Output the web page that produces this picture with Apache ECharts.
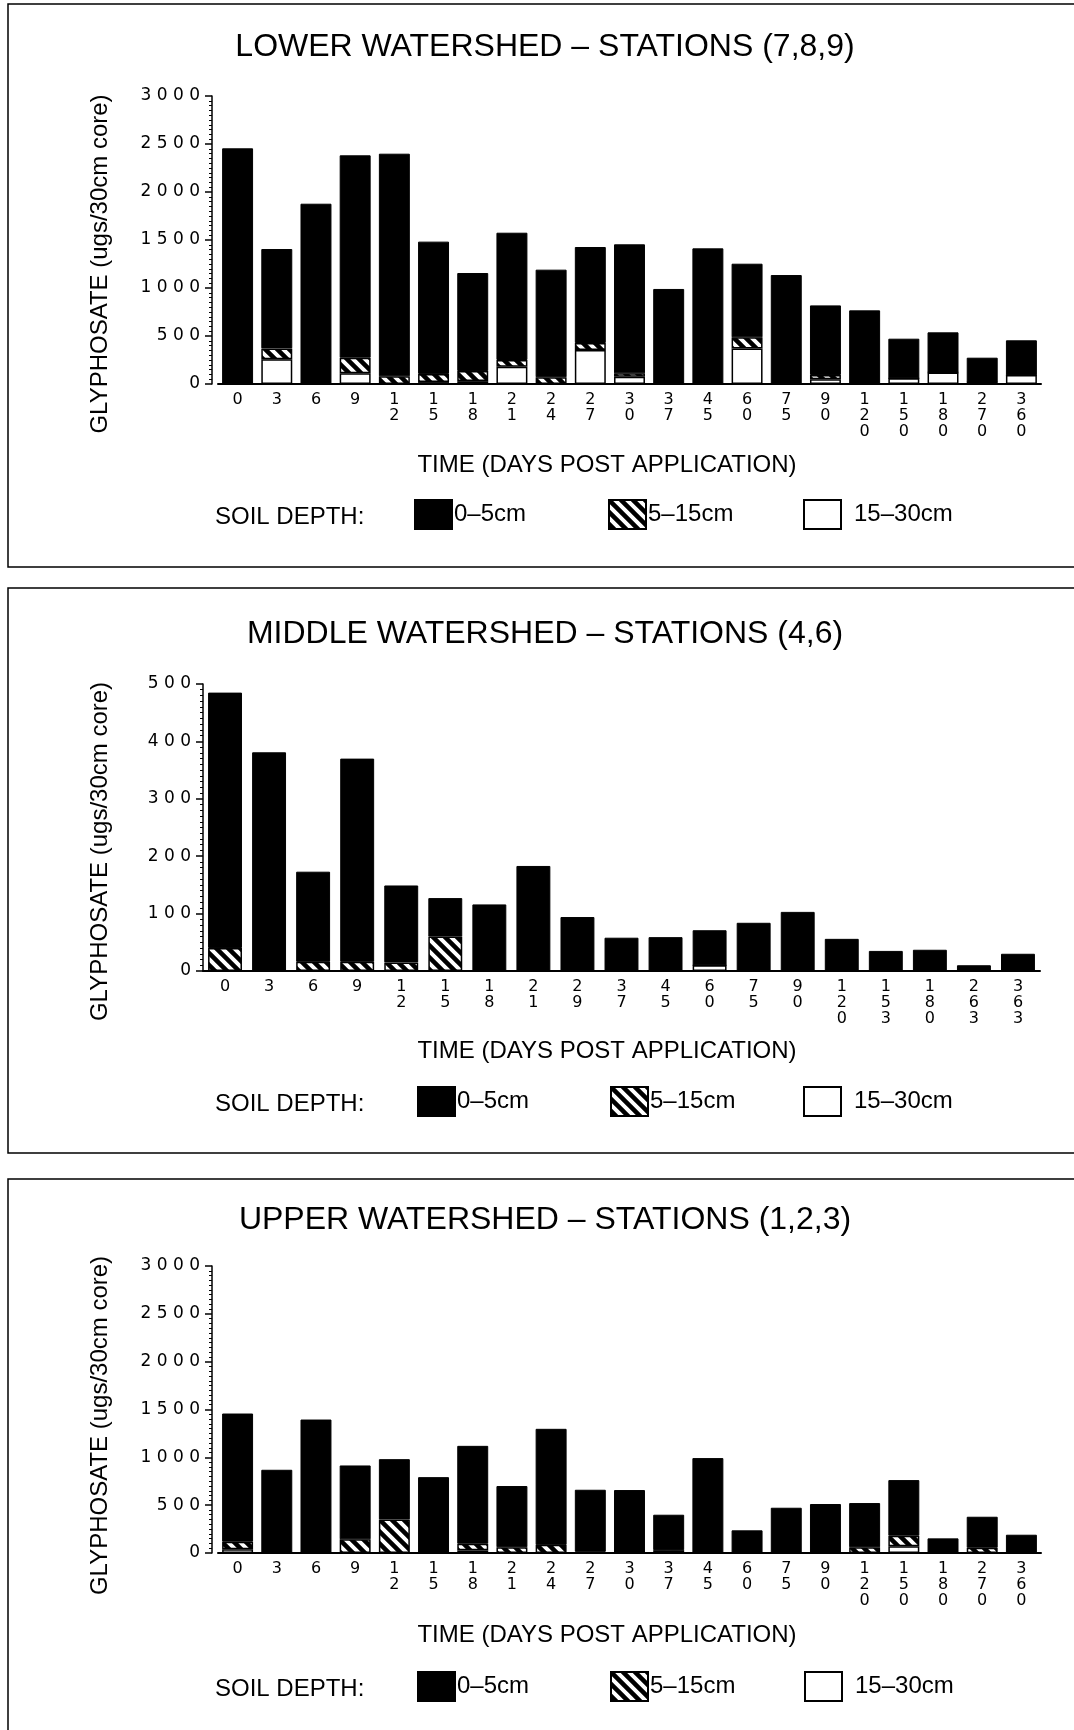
<!DOCTYPE html>
<html>
<head>
<meta charset="utf-8">
<title>Glyphosate by watershed</title>
<script src="https://cdn.jsdelivr.net/npm/echarts@6/dist/echarts.min.js"></script>
<style>
  html, body { margin: 0; padding: 0; background: #fff; }
  #chart { width: 1074px; height: 1730px; }
</style>
</head>
<body>
<div id="chart"></div>
<script>
// ---- data (ugs / 30cm core) ----
const lowerDays = ['0', '3', '6', '9', '12', '15', '18', '21', '24', '27', '30', '37', '45', '60', '75', '90', '120', '150', '180', '270', '360'];
const lowerTop = [2455, 1035, 1878, 2108, 2319, 1378, 1021, 1326, 1121, 1000, 1344, 990, 1413, 767, 1135, 725, 767, 412, 418, 259, 360];
const lowerMid = [0, 114, 0, 163, 80, 85, 105, 70, 70, 73, 35, 0, 0, 115, 0, 44, 0, 0, 0, 0, 0];
const lowerDeep = [0, 257, 0, 111, 0, 20, 30, 180, 0, 354, 76, 0, 0, 371, 0, 50, 0, 60, 120, 15, 95];

const middleDays = ['0', '3', '6', '9', '12', '15', '18', '21', '29', '37', '45', '60', '75', '90', '120', '153', '180', '263', '363'];
const middleTop = [445, 381, 157, 354, 134, 67, 116, 183, 94, 58, 59, 61, 84, 103, 56, 35, 37, 10, 30];
const middleMid = [40, 0, 16, 16, 15, 60, 0, 0, 0, 0, 0, 0, 0, 0, 0, 0, 0, 0, 0];
const middleDeep = [0, 0, 0, 0, 0, 0, 0, 0, 0, 0, 0, 10, 0, 0, 0, 0, 0, 0, 0];

const upperDays = ['0', '3', '6', '9', '12', '15', '18', '21', '24', '27', '30', '37', '45', '60', '75', '90', '120', '150', '180', '270', '360'];
const upperTop = [1340, 870, 1395, 772, 630, 793, 1023, 640, 1213, 649, 658, 370, 992, 237, 473, 512, 462, 581, 153, 324, 191];
const upperMid = [78, 0, 0, 143, 351, 0, 69, 60, 85, 12, 0, 30, 0, 0, 0, 0, 60, 111, 0, 55, 0];
const upperDeep = [40, 0, 0, 0, 0, 0, 28, 0, 0, 0, 0, 0, 0, 0, 0, 0, 0, 70, 0, 0, 0];

const depthNames = ['0–5cm', '5–15cm', '15–30cm'];
const panelTitles = ['LOWER WATERSHED – STATIONS (7,8,9)', 'MIDDLE WATERSHED – STATIONS (4,6)', 'UPPER WATERSHED – STATIONS (1,2,3)'];
const yMaxes = [3000, 500, 3000];
const yIntervals = [500, 100, 500];

const TEXT_FONT = '"Liberation Sans", Arial, sans-serif';
const TICK_FONT = '"DejaVu Sans", sans-serif';

// diagonal hatch tile for the 5-15cm layer
function makeHatch() {
    const s = 12;
    const c = document.createElement('canvas');
    c.width = s;
    c.height = s;
    const ctx = c.getContext('2d');
    ctx.fillStyle = '#fff';
    ctx.fillRect(0, 0, s, s);
    ctx.strokeStyle = '#000';
    ctx.lineWidth = 4.5;
    ctx.beginPath();
    ctx.moveTo(-s / 2, -s / 2); ctx.lineTo(s * 1.5, s * 1.5);
    ctx.moveTo(-s / 2, s / 2); ctx.lineTo(s / 2, s * 1.5);
    ctx.moveTo(s / 2, -s / 2); ctx.lineTo(s * 1.5, s / 2);
    ctx.stroke();
    return c;
}
const hatch = { image: makeHatch(), repeat: 'repeat' };

// layout of each panel (pixels)
const layout = [
    { grid: { left: 218, top: 96, width: 823, height: 288 }, yOffset: 6, nameGap: 100, namePad: 48, barWidth: '79%',
      frame: [8, 4, 1100, 563], titleY: 47, timeY: 465, legendTop: 499, legendLeft: [414, 608, 803] },
    { grid: { left: 203, top: 684, width: 837, height: 287 }, yOffset: 0, nameGap: 91, namePad: 48, barWidth: '77%',
      frame: [8, 588, 1100, 565], titleY: 634, timeY: 1051, legendTop: 1086, legendLeft: [417, 610, 803] },
    { grid: { left: 218, top: 1266, width: 823, height: 287 }, yOffset: 6, nameGap: 100, namePad: 32, barWidth: '79%',
      frame: [8, 1179, 1100, 620], titleY: 1220, timeY: 1635, legendTop: 1671, legendLeft: [417, 610, 804] }
];

const panels = [
    { days: lowerDays, layers: [lowerTop, lowerMid, lowerDeep] },
    { days: middleDays, layers: [middleTop, middleMid, middleDeep] },
    { days: upperDays, layers: [upperTop, upperMid, upperDeep] }
];

const layerStyles = [
    { color: '#000', borderColor: '#000', borderWidth: 1 },
    { color: hatch, borderColor: '#000', borderWidth: 1.5 },
    { color: '#fff', borderColor: '#000', borderWidth: 1.5 }
];

const chart = echarts.init(document.getElementById('chart'), null, { renderer: 'canvas' });

const grids = [];
const xAxes = [];
const yAxes = [];
const series = [];
const legends = [];
const graphics = [];

panels.forEach((panel, p) => {
    const lay = layout[p];
    grids.push(lay.grid);

    xAxes.push({
        gridIndex: p,
        type: 'category',
        data: panel.days,
        axisLine: { lineStyle: { color: '#000', width: 2 } },
        axisTick: { show: false },
        axisLabel: {
            interval: 0,
            margin: 8,
            color: '#000',
            fontFamily: TICK_FONT,
            fontSize: 16,
            lineHeight: 16,
            // digits stacked vertically as in the original
            formatter: v => v.split('').join('\n')
        }
    });

    yAxes.push({
        gridIndex: p,
        type: 'value',
        min: 0,
        max: yMaxes[p],
        interval: yIntervals[p],
        offset: lay.yOffset,
        splitLine: { show: false },
        axisLine: { show: true, lineStyle: { color: '#000', width: 1.5 } },
        axisTick: { show: true, length: 7, lineStyle: { color: '#000', width: 1.5 } },
        minorTick: { show: true, splitNumber: 10, length: 3, lineStyle: { color: '#000', width: 1 } },
        axisLabel: {
            margin: 12,
            color: '#000',
            fontFamily: TICK_FONT,
            fontSize: 17,
            formatter: v => String(v).split('').join(' ')
        },
        name: 'GLYPHOSATE (ugs/30cm core)',
        nameLocation: 'middle',
        nameGap: lay.nameGap,
        // right padding pushes the rotated title a little down the axis
        nameTextStyle: { color: '#000', fontFamily: TEXT_FONT, fontSize: 24, padding: [0, lay.namePad, 0, 0] }
    });

    // white (deepest) at the bottom, black (surface) on top
    [2, 1, 0].forEach(k => {
        series.push({
            name: depthNames[k],
            type: 'bar',
            xAxisIndex: p,
            yAxisIndex: p,
            stack: 'panel' + p,
            barWidth: lay.barWidth,
            data: panel.layers[k],
            itemStyle: layerStyles[k],
            emphasis: { disabled: true }
        });
    });

    // one legend per key so each can sit where the original puts it
    depthNames.forEach((name, k) => {
        legends.push({
            data: [name],
            left: lay.legendLeft[k],
            top: lay.legendTop,
            padding: 0,
            itemWidth: 37,
            itemHeight: 29,
            icon: 'rect',
            selectedMode: false,
            itemStyle: { borderColor: '#000', borderWidth: 2 },
            textStyle: {
                color: '#000',
                fontFamily: TEXT_FONT,
                fontSize: 24,
                padding: k === 2 ? [0, 0, 0, 8] : [0, 0, 0, -3]
            }
        });
    });

    // panel frame and free text
    const [fx, fy, fw, fh] = lay.frame;
    graphics.push({
        type: 'rect',
        shape: { x: fx, y: fy, width: fw, height: fh },
        style: { fill: 'none', stroke: '#000', lineWidth: 1.5 },
        silent: true
    });
    graphics.push({
        type: 'text',
        x: 545,
        y: lay.titleY,
        style: { text: panelTitles[p], font: '32px ' + TEXT_FONT, fill: '#000', textAlign: 'center', textVerticalAlign: 'middle' }
    });
    graphics.push({
        type: 'text',
        x: 607,
        y: lay.timeY,
        style: { text: 'TIME (DAYS POST APPLICATION)', font: '24px ' + TEXT_FONT, fill: '#000', textAlign: 'center', textVerticalAlign: 'middle' }
    });
    graphics.push({
        type: 'text',
        x: 215,
        y: lay.legendTop + 18,
        style: { text: 'SOIL DEPTH:', font: '24px ' + TEXT_FONT, fill: '#000', textAlign: 'left', textVerticalAlign: 'middle' }
    });
});

chart.setOption({
    animation: false,
    backgroundColor: '#fff',
    grid: grids,
    xAxis: xAxes,
    yAxis: yAxes,
    legend: legends,
    series: series,
    graphic: graphics
});
</script>
</body>
</html>
